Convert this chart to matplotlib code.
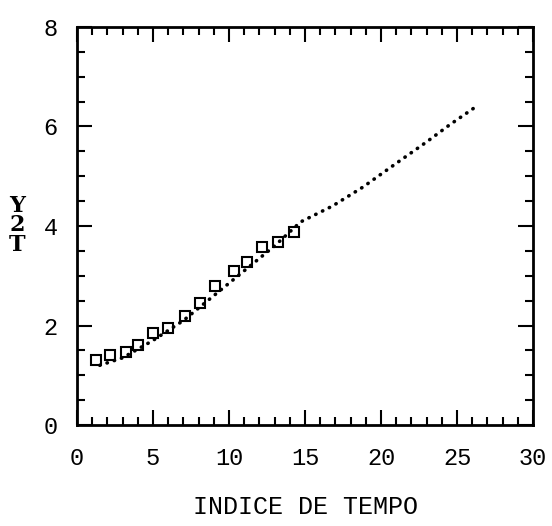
import matplotlib
matplotlib.use("Agg")
import matplotlib.pyplot as plt
from matplotlib.ticker import MultipleLocator

# observed points (open squares)
sq_x = [1.25, 2.2, 3.2, 4.0, 5.0, 6.0, 7.1, 8.1, 9.1, 10.3, 11.2, 12.2, 13.2, 14.3]
sq_y = [1.3, 1.4, 1.47, 1.6, 1.85, 1.95, 2.2, 2.45, 2.8, 3.1, 3.28, 3.58, 3.68, 3.88]

# dotted curve
line_x = [1.5, 3, 5, 7, 9, 11, 13, 14.7, 16.8, 18.8, 21.05, 23.0, 24.5, 26.3]
line_y = [1.2, 1.35, 1.7, 2.1, 2.6, 3.1, 3.6, 4.08, 4.4, 4.78, 5.27, 5.69, 6.03, 6.41]

xticks = [0, 5, 10, 15, 20, 25, 30]
yticks = [0, 2, 4, 6, 8]

plt.rcParams["font.family"] = ["Liberation Mono", "DejaVu Sans Mono"]

fig = plt.figure(figsize=(5.52, 5.26), dpi=100)
ax = fig.add_axes([0.1395, 0.192, 0.8261, 0.7567])

ax.plot(line_x, line_y, color="black", lw=2.6, linestyle=(0, (0.1, 2.0)),
        dash_capstyle="round")
ax.plot(sq_x, sq_y, "s", ms=6.5, mfc="none", mec="black", mew=1.5)

ax.set_xlim(0, 30)
ax.set_ylim(0, 8)
ax.set_xticks(xticks)
ax.set_yticks(yticks)
ax.xaxis.set_minor_locator(MultipleLocator(1))
ax.yaxis.set_minor_locator(MultipleLocator(0.5))
ax.tick_params(which="both", direction="in", top=True, right=True, width=1.5)
ax.tick_params(which="major", length=11, labelsize=17, pad=16)
ax.tick_params(axis="y", which="major", pad=14)
ax.tick_params(which="minor", length=6)
for s in ax.spines.values():
    s.set_linewidth(2)

ax.set_xlabel("INDICE DE TEMPO", fontsize=18, labelpad=18)
fig.text(0.031, 0.572, "Y\n2\nT", fontsize=16, ha="center", va="center",
         linespacing=0.85, fontweight="bold", family="DejaVu Serif")

fig.savefig("out.png", dpi=100)
